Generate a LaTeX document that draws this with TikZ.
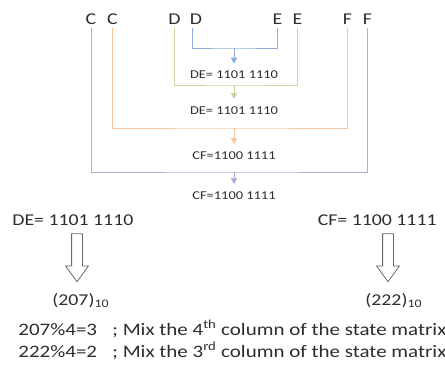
\documentclass[tikz,border=0pt]{standalone}
\usepackage{fontspec}
\setmainfont[FakeStretch=1.2]{Carlito}
\usetikzlibrary{arrows.meta,shapes.arrows}

\definecolor{blueln}{RGB}{143,176,214}
\definecolor{greenln}{RGB}{198,214,160}
\definecolor{orangeln}{RGB}{243,200,160}
\definecolor{purpleln}{RGB}{178,172,210}
\definecolor{txt}{RGB}{45,45,45}

\begin{document}
\begin{tikzpicture}[x=1pt, y=-1pt, line width=0.8pt,
    >={Triangle[width=6pt,length=6pt]},
    letter/.style={font=\fontsize{16.5}{18}\selectfont, text=txt, inner sep=0pt, outer sep=3pt, anchor=base},
    lbl/.style={font=\fontsize{12}{14}\selectfont, text=txt, inner sep=0pt, outer sep=7pt, anchor=base},
    big/.style={font=\fontsize{16.5}{18}\selectfont, text=txt, inner sep=0pt},
    row/.style={font=\fontsize{17.5}{20}\selectfont, text=txt, inner sep=0pt, anchor=base west},
    hollow/.style={draw=black!60, single arrow, rotate=-90, inner xsep=0pt, inner ysep=5pt,
      minimum height=48pt, single arrow head extend=6pt,
      single arrow tip angle=72}]
  \useasboundingbox (0,0) rectangle (445,380);

  % the letters on top
  \node[letter] (c1) at (91,24.5) {C};
  \node[letter] (c2) at (112.5,24.5) {C};
  \node[letter] (d1) at (174.5,24.5) {D};
  \node[letter] (d2) at (196,24.5) {D};
  \node[letter] (e1) at (277.5,24.5) {E};
  \node[letter] (e2) at (297.5,24.5) {E};
  \node[letter] (f1) at (347.5,24.5) {F};
  \node[letter] (f2) at (367.5,24.5) {F};

  % results
  \node[lbl] (de1) at (234,78.5) {DE= 1101 1110};
  \node[lbl] (de2) at (234,114) {DE= 1101 1110};
  \node[lbl] (cf1) at (234,159) {CF=1100 1111};
  \node[lbl] (cf2) at (234,199) {CF=1100 1111};

  \coordinate (j1) at (234,48);
  \coordinate (j2) at (234,85);
  \coordinate (j3) at (234,128);
  \coordinate (j4) at (234,172);

  \draw[blueln] ([xshift=-4pt]d2.south) |- (j1) -| (e1.south);
  \draw[greenln] (d1.south) |- (j2) -| (e2.south);
  \draw[orangeln] (c2.south) |- (j3) -| (f1.south);
  \draw[purpleln] (c1.south) |- (j4) -| (f2.south);

  \path[->]
    (j1) edge[blueln] (de1)
    (j2) edge[greenln] (de2)
    (j3) edge[orangeln] (cf1)
    (j4) edge[purpleln] (cf2);

  % conversion
  \node[big, anchor=base west] (de) at (12,225) {DE= 1101 1110};
  \node[big, anchor=base east] (cf) at (437,225) {CF= 1100 1111};
  \node[hollow] (a1) at (77,254) {};
  \node[hollow] (a2) at (388,254) {};
  \node[big, anchor=base west] (v1) at (52,305) {(207)\textsubscript{10}};
  \node[big, anchor=base west] (v2) at (365,305) {(222)\textsubscript{10}};

  \node[row] (m1) at (18,335) {207\%4=3};
  \node[row] (t1) at (112,335) {; Mix the 4\textsuperscript{th} column of the state matrix};
  \node[row] (m2) at (18,357) {222\%4=2};
  \node[row] (t2) at (112,357) {; Mix the 3\textsuperscript{rd} column of the state matrix};
\end{tikzpicture}
\end{document}
